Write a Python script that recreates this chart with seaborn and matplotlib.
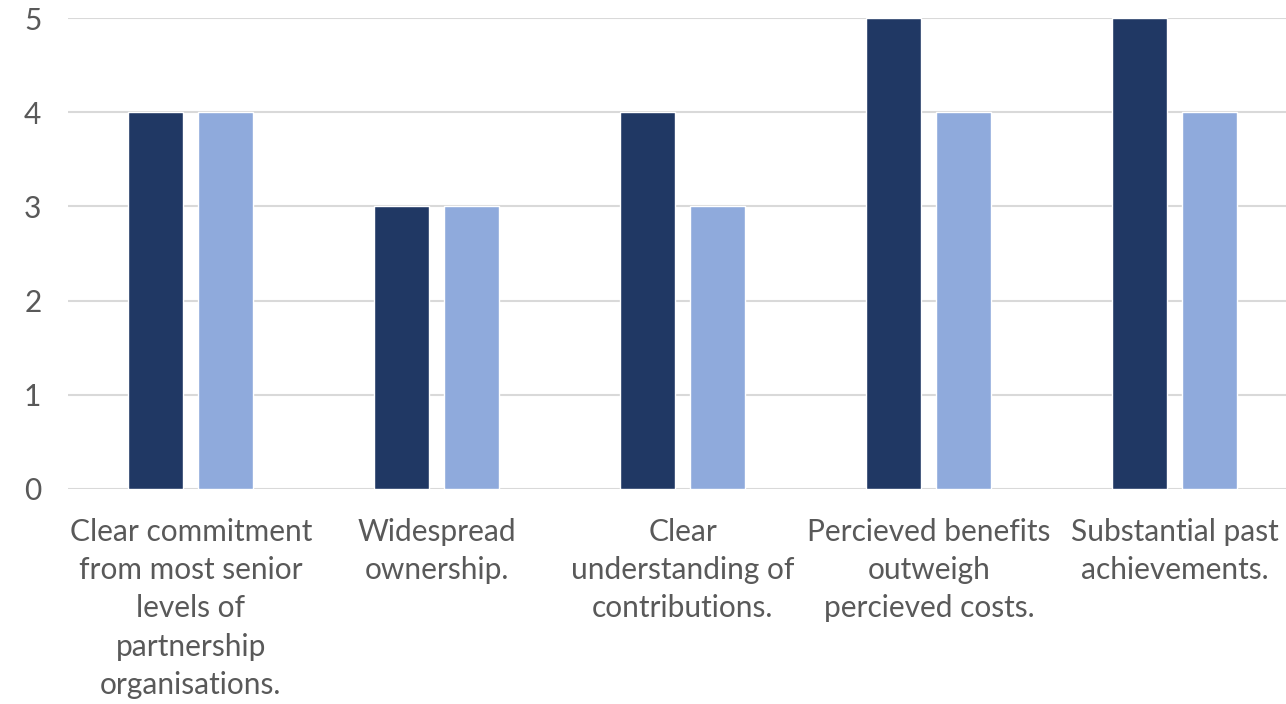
import pandas as pd
import matplotlib.pyplot as plt
import seaborn as sns

# Categories and series values
categories = [
    "Clear commitment\nfrom most senior\nlevels of\npartnership\norganisations.",
    "Widespread\nownership.",
    "Clear\nunderstanding of\ncontributions.",
    "Percieved benefits\noutweigh\npercieved costs.",
    "Substantial past\nachievements.",
]
series_1 = [4, 3, 4, 5, 5]
series_2 = [4, 3, 3, 4, 4]
series_names = ["Series 1", "Series 2"]
colors = ["#203864", "#8FAADC"]

df = pd.DataFrame({
    "category": categories * 2,
    "value": series_1 + series_2,
    "series": [series_names[0]] * 5 + [series_names[1]] * 5,
})

sns.set_style("white")
plt.rcParams['font.family'] = ['Lato', 'DejaVu Sans']

fig = plt.figure(figsize=(12.86, 7.04), dpi=100)
# plot area runs a little past the right edge, as in the original
ax = fig.add_axes([0.0527, 0.3054, 0.9565, 0.669])

sns.barplot(data=df, x="category", y="value", hue="series", palette=colors,
            width=0.569, gap=0.214, saturation=1, ax=ax, legend=False)

ax.set_ylim(0, 5)
ax.set_xlim(-0.5, 4.5)
ax.set_yticks(range(0, 6))
ax.yaxis.grid(True, color="#D9D9D9", linewidth=1.5)
ax.set_axisbelow(True)
sns.despine(ax=ax, left=True, bottom=True)
ax.set_xlabel("")
ax.set_ylabel("")
ax.tick_params(axis="x", length=0, pad=21, labelsize=21.5, labelcolor="#595959")
ax.tick_params(axis="y", length=0, pad=19, labelsize=21.5, labelcolor="#595959")
for lbl in ax.get_xticklabels():
    lbl.set_linespacing(1.44)

plt.savefig("out.png", dpi=100)
plt.close()
